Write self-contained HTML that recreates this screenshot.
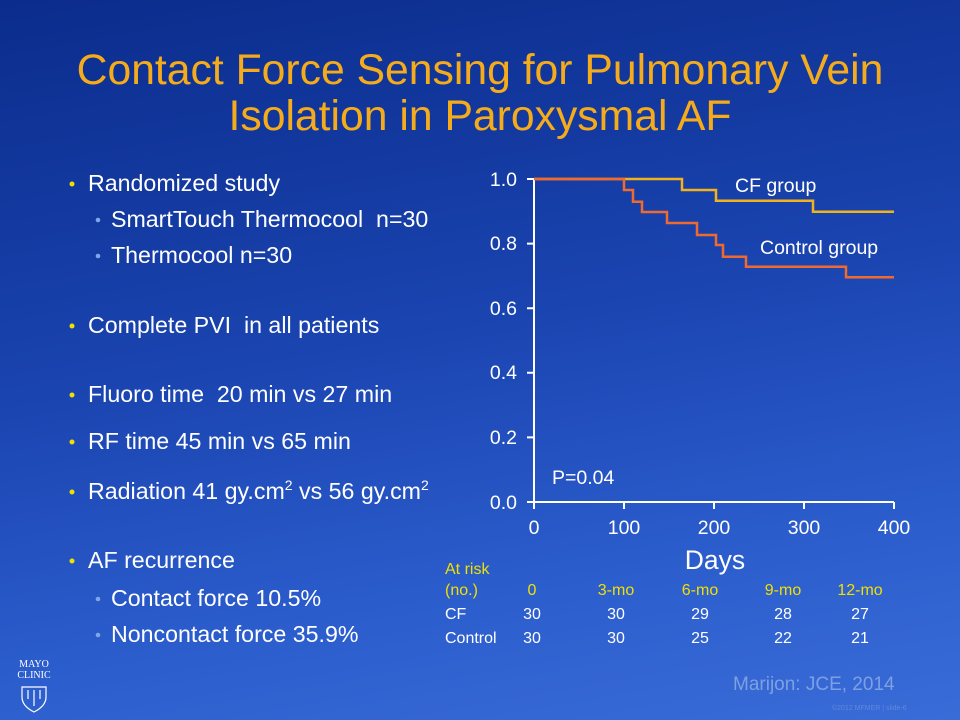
<!DOCTYPE html>
<html><head><meta charset="utf-8"><style>
html,body{margin:0;padding:0;}
body{width:960px;height:720px;overflow:hidden;background:linear-gradient(170deg,#0b2c8c 0%,#1a44b0 45%,#2b5ccc 75%,#3a6cd8 100%);}
svg{display:block;}
</style></head><body>
<svg width="960" height="720" xmlns="http://www.w3.org/2000/svg" font-family="Liberation Sans, Arial, sans-serif">
<text x="480" y="84" fill="#f6ac1a" font-size="42.7" text-anchor="middle">Contact Force Sensing for Pulmonary Vein</text>
<text x="480" y="130" fill="#f6ac1a" font-size="42.7" text-anchor="middle">Isolation in Paroxysmal AF</text>
<g fill="#fff" font-size="23.2">
<circle cx="72" cy="184" r="2.5" fill="#f0e000"/><text x="88" y="191">Randomized study</text>
<circle cx="98" cy="220" r="2.3" fill="#7fa6e6"/><text x="111" y="227">SmartTouch Thermocool&#160; n=30</text>
<circle cx="98" cy="256" r="2.3" fill="#7fa6e6"/><text x="111" y="263">Thermocool n=30</text>
<circle cx="72" cy="326" r="2.5" fill="#f0e000"/><text x="88" y="333">Complete PVI&#160; in all patients</text>
<circle cx="72" cy="395" r="2.5" fill="#f0e000"/><text x="88" y="402">Fluoro time&#160; 20 min vs 27 min</text>
<circle cx="72" cy="442" r="2.5" fill="#f0e000"/><text x="88" y="449">RF time 45 min vs 65 min</text>
<circle cx="72" cy="492" r="2.5" fill="#f0e000"/><text x="88" y="499">Radiation 41 gy.cm<tspan font-size="14" dy="-9">2</tspan><tspan dy="9"> vs 56 gy.cm</tspan><tspan font-size="14" dy="-9">2</tspan></text>
<circle cx="72" cy="561" r="2.5" fill="#f0e000"/><text x="88" y="568">AF recurrence</text>
<circle cx="98" cy="599" r="2.3" fill="#7fa6e6"/><text x="111" y="606">Contact force 10.5%</text>
<circle cx="98" cy="635" r="2.3" fill="#7fa6e6"/><text x="111" y="642">Noncontact force 35.9%</text>
</g>
<g stroke="#fff" stroke-width="2" fill="none">
<path d="M534 178 V502 H894"/>
<path d="M527 179H534 M527 243.6H534 M527 308.2H534 M527 372.8H534 M527 437.4H534 M527 502H534"/>
<path d="M534 502V509 M624 502V509 M714 502V509 M804 502V509 M894 502V509"/>
</g>
<g fill="#fff" font-size="19.5" text-anchor="end">
<text x="517" y="186">1.0</text><text x="517" y="250">0.8</text><text x="517" y="315">0.6</text><text x="517" y="379">0.4</text><text x="517" y="444">0.2</text><text x="517" y="509">0.0</text>
</g>
<g fill="#fff" font-size="19.5" text-anchor="middle">
<text x="534" y="534">0</text><text x="624" y="534">100</text><text x="714" y="534">200</text><text x="804" y="534">300</text><text x="894" y="534">400</text>
</g>
<path d="M534 179H682V190H716V200.7H813V211.7H894" stroke="#f2b21c" stroke-width="2.5" fill="none"/>
<path d="M534 179H624V190H633V201.7H642V212H667V223H697V235H716V245H723V256.7H746V266.7H846V277.3H894" stroke="#f06a30" stroke-width="2.5" fill="none"/>
<text x="735" y="192" fill="#fff" font-size="19.5">CF group</text>
<text x="760" y="254" fill="#fff" font-size="19.5">Control group</text>
<text x="552" y="484" fill="#fff" font-size="19.5">P=0.04</text>
<text x="715" y="569" fill="#fff" font-size="26.5" text-anchor="middle">Days</text>
<g font-size="16" fill="#f0e000">
<text x="445" y="574">At risk</text><text x="445" y="595">(no.)</text>
<g text-anchor="middle"><text x="532" y="595">0</text><text x="616" y="595">3-mo</text><text x="700" y="595">6-mo</text><text x="783" y="595">9-mo</text><text x="860" y="595">12-mo</text></g>
</g>
<g font-size="16" fill="#fff">
<text x="445" y="619">CF</text><text x="445" y="643">Control</text>
<g text-anchor="middle"><text x="532" y="619">30</text><text x="616" y="619">30</text><text x="700" y="619">29</text><text x="783" y="619">28</text><text x="860" y="619">27</text>
<text x="532" y="643">30</text><text x="616" y="643">30</text><text x="700" y="643">25</text><text x="783" y="643">22</text><text x="860" y="643">21</text></g>
</g>
<text x="733" y="690" fill="#7ea0e2" font-size="19">Marijon: JCE, 2014</text>
<text x="832" y="710" fill="#5f88de" font-size="7">©2012 MFMER  |  slide-6</text>
<g fill="#fff" font-family="Liberation Serif, serif" font-size="10" text-anchor="middle">
<text x="34" y="667">MAYO</text><text x="34" y="678">CLINIC</text></g>
<path d="M22 687 H46 V697 Q46 706 34 712 Q22 706 22 697Z M28 690V699 M34 690V706 M40 690V699" stroke="#fff" stroke-width="1.2" fill="none"/>
</svg>
</body></html>
